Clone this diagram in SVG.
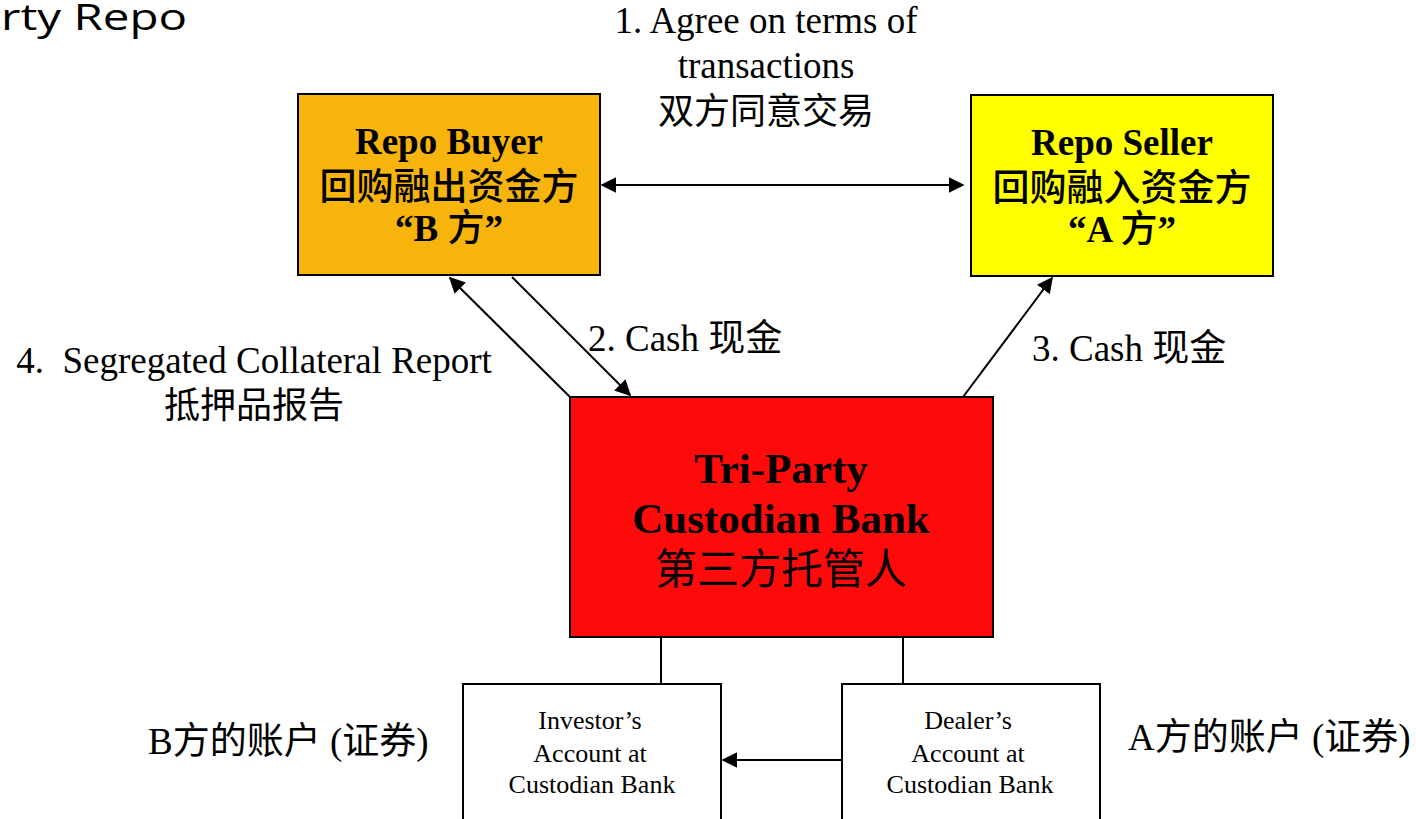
<svg xmlns="http://www.w3.org/2000/svg" width="1416" height="819" viewBox="0 0 1416 819">
<style>
.t{font-family:"Liberation Serif","Noto Sans CJK SC",serif;fill:#000}
.b{font-weight:bold}
.cj{font-weight:500}
.box{stroke:#000;stroke-width:2}
.ln{stroke:#000;stroke-width:2;fill:none}
</style>
<defs>
<marker id="ah2" viewBox="0 0 10 10" refX="9" refY="5" markerWidth="16" markerHeight="16" markerUnits="userSpaceOnUse" orient="auto-start-reverse">
<path d="M0,0 L10,5 L0,10 z" fill="#000"/>
</marker>
</defs>
<rect width="1416" height="819" fill="#fff"/>
<text x="1" y="30" font-family="Open Sans,DejaVu Sans,sans-serif" font-size="37" textLength="186" lengthAdjust="spacingAndGlyphs" fill="#000">rty Repo</text>

<g id="connectors">
<line class="ln" x1="602" y1="185" x2="963" y2="185" marker-start="url(#ah2)" marker-end="url(#ah2)"/>
<line class="ln" x1="570" y1="397" x2="450" y2="278" marker-end="url(#ah2)"/>
<line class="ln" x1="512" y1="277" x2="630" y2="395" marker-end="url(#ah2)"/>
<line class="ln" x1="963" y1="397" x2="1052" y2="278" marker-end="url(#ah2)"/>
<line class="ln" x1="661" y1="637" x2="661" y2="684"/>
<line class="ln" x1="903" y1="637" x2="903" y2="684"/>
<line class="ln" x1="842" y1="760" x2="723" y2="760" marker-end="url(#ah2)"/>
</g>

<g id="label1">
<text class="t" font-size="37" text-anchor="middle" x="766" y="33">1. Agree on terms of</text>
<text class="t" font-size="37" text-anchor="middle" x="766" y="78">transactions</text>
<text class="t" font-size="36" text-anchor="middle" x="766" y="124">双方同意交易</text>
</g>
<g id="label2"><text class="t" font-size="37" x="588" y="351">2. Cash 现金</text></g>
<g id="label3"><text class="t" font-size="37" x="1032" y="361">3. Cash 现金</text></g>
<g id="label4">
<text class="t" font-size="37" text-anchor="middle" x="254" y="373" style="white-space:pre">4.  Segregated Collateral Report</text>
<text class="t" font-size="36" text-anchor="middle" x="254" y="418">抵押品报告</text>
</g>

<g id="repo-buyer">
<rect class="box" x="298" y="94" width="302" height="181" fill="#F7B40C"/>
<text class="t b" font-size="37" text-anchor="middle" x="449" y="154">Repo Buyer</text>
<text class="t cj" font-size="37" text-anchor="middle" x="449" y="200">回购融出资金方</text>
<text class="t b" font-size="37" text-anchor="middle" x="449" y="241">“B <tspan class="cj">方</tspan>”</text>
</g>
<g id="repo-seller">
<rect class="box" x="971" y="95" width="302" height="181" fill="#FFFF00"/>
<text class="t b" font-size="37" text-anchor="middle" x="1122" y="155">Repo Seller</text>
<text class="t cj" font-size="37" text-anchor="middle" x="1122" y="201">回购融入资金方</text>
<text class="t b" font-size="37" text-anchor="middle" x="1122" y="242">“A <tspan class="cj">方</tspan>”</text>
</g>
<g id="custodian">
<rect class="box" x="570" y="397" width="423" height="240" fill="#FF0A0A"/>
<text class="t b" font-size="43" text-anchor="middle" x="781" y="483">Tri-Party</text>
<text class="t b" font-size="43" text-anchor="middle" x="781" y="533">Custodian Bank</text>
<text class="t" font-size="42" text-anchor="middle" x="781" y="584">第三方托管人</text>
</g>
<g id="investor">
<rect class="box" x="463" y="684" width="258" height="150" fill="#fff"/>
<text class="t" font-size="26" text-anchor="middle" x="590" y="729">Investor’s</text>
<text class="t" font-size="26" text-anchor="middle" x="590" y="762">Account at</text>
<text class="t" font-size="26" text-anchor="middle" x="592" y="793">Custodian Bank</text>
</g>
<g id="dealer">
<rect class="box" x="842" y="684" width="258" height="150" fill="#fff"/>
<text class="t" font-size="26" text-anchor="middle" x="968" y="729">Dealer’s</text>
<text class="t" font-size="26" text-anchor="middle" x="968" y="762">Account at</text>
<text class="t" font-size="26" text-anchor="middle" x="970" y="793">Custodian Bank</text>
</g>
<g id="label-b"><text class="t" font-size="37" x="148" y="754">B方的账户 (证券)</text></g>
<g id="label-a"><text class="t" font-size="37" x="1128" y="750">A方的账户 (证券)</text></g>
</svg>
